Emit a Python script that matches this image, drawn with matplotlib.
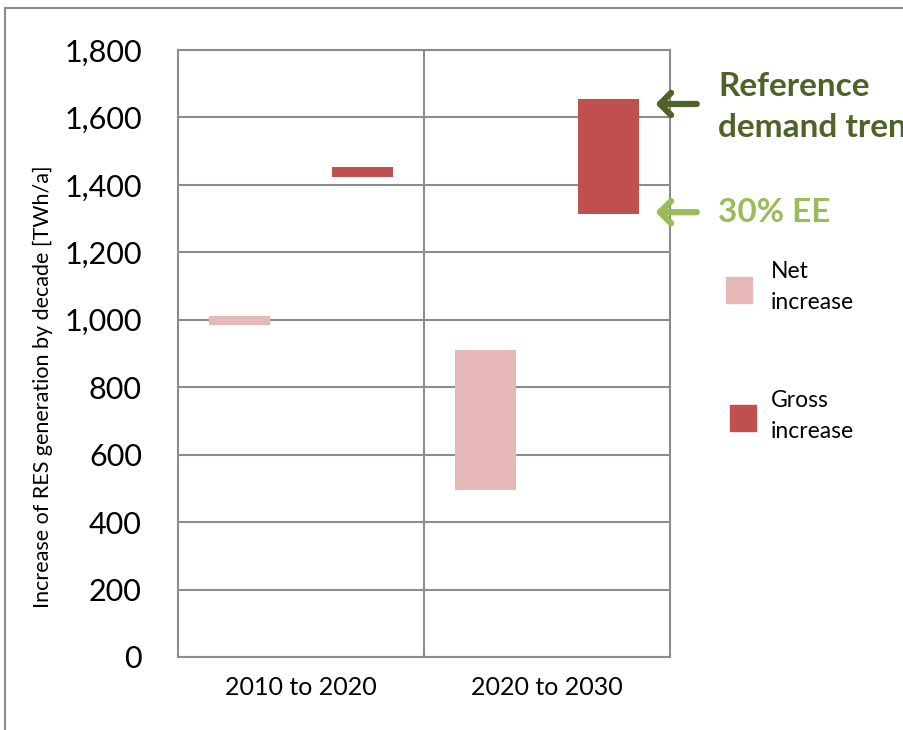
import matplotlib
matplotlib.use('Agg')
import matplotlib.pyplot as plt
from matplotlib.lines import Line2D

# floating bars: increase of RES generation per decade, TWh/a
periods = ['2010 to 2020', '2020 to 2030']
net_low = [985, 495]
net_high = [1012, 910]
gross_low = [1423, 1314]
gross_high = [1453, 1655]
yticks = [0, 200, 400, 600, 800, 1000, 1200, 1400, 1600, 1800]

NET_COLOR = '#e6b9b8'
GROSS_COLOR = '#c0504d'
GRID = '#8c8c8c'
FONT = 'Lato'

fig = plt.figure(figsize=(9.04, 7.30), dpi=100)
ax = fig.add_axes([178 / 904, 1 - 657 / 730, 492 / 904, 607 / 730])

centers = [i + 0.5 for i in range(len(periods))]
w = 0.25
ax.bar([c - 0.25 for c in centers], [h - l for h, l in zip(net_high, net_low)],
       bottom=net_low, width=w, color=NET_COLOR, zorder=3)
ax.bar([c + 0.25 for c in centers], [h - l for h, l in zip(gross_high, gross_low)],
       bottom=gross_low, width=w, color=GROSS_COLOR, zorder=3)

ax.set_xlim(0, len(periods))
ax.set_ylim(0, 1800)
ax.set_yticks(yticks)
ax.set_yticklabels([f'{v:,}' for v in yticks], fontsize=22, family=FONT)
ax.set_xticks(centers)
ax.set_xticklabels(periods, fontsize=18, family=FONT)
ax.tick_params(length=0)
ax.tick_params(axis='y', pad=26)
ax.tick_params(axis='x', pad=14)

for y in yticks:
    ax.axhline(y, color=GRID, lw=1.5, zorder=1)
for x in range(1, len(periods)):
    ax.axvline(x, color=GRID, lw=1.5, zorder=1)
for s in ax.spines.values():
    s.set_color(GRID)
    s.set_linewidth(1.5)

ax.set_ylabel('Increase of RES generation by decade [TWh/a]', fontsize=15.5,
              family=FONT)
ax.yaxis.set_label_coords(-0.255, 0.445)

# arrows pointing at the top and bottom of the 2020-2030 gross bar
gx = centers[-1] + 0.25 + w / 2
arrow = '->,head_length=0.8,head_width=0.8'
ax.annotate('', xy=(gx + 0.055, gross_high[-1] - 15), xytext=(gx + 0.245, gross_high[-1] - 15),
            arrowprops=dict(arrowstyle=arrow, lw=4.5, color='#4f6228'),
            annotation_clip=False)
ax.annotate('', xy=(gx + 0.055, gross_low[-1] + 5), xytext=(gx + 0.245, gross_low[-1] + 5),
            arrowprops=dict(arrowstyle=arrow, lw=4.5, color='#9bbb59'),
            annotation_clip=False)
fig.text(718 / 904, 1 - 107 / 730, 'Reference\ndemand trend', fontsize=24, family=FONT,
         weight='bold', color='#4f6228', va='center', ha='left', linespacing=1.5)
fig.text(718 / 904, 1 - 213 / 730, '30% EE', fontsize=24, family=FONT,
         weight='bold', color='#9bbb59', va='center', ha='left')

# legend entries
fig.patches.append(plt.Rectangle((726 / 904, 1 - 303 / 730), 26 / 904, 26 / 730,
                                 transform=fig.transFigure, color=NET_COLOR))
fig.patches.append(plt.Rectangle((730 / 904, 1 - 431 / 730), 26 / 904, 26 / 730,
                                 transform=fig.transFigure, color=GROSS_COLOR))
fig.text(771 / 904, 1 - 287 / 730, 'Net\nincrease', fontsize=16.5, family=FONT,
         va='center', ha='left', linespacing=1.55)
fig.text(771 / 904, 1 - 416 / 730, 'Gross\nincrease', fontsize=16.5, family=FONT,
         va='center', ha='left', linespacing=1.55)

# outer chart frame
fig.add_artist(Line2D([5 / 904, 5 / 904], [0, 1 - 8 / 730], color=GRID, lw=1.5,
                      transform=fig.transFigure))
fig.add_artist(Line2D([5 / 904, 1], [1 - 8 / 730, 1 - 8 / 730], color=GRID, lw=1.5,
                      transform=fig.transFigure))

fig.savefig('out.png', dpi=100)
